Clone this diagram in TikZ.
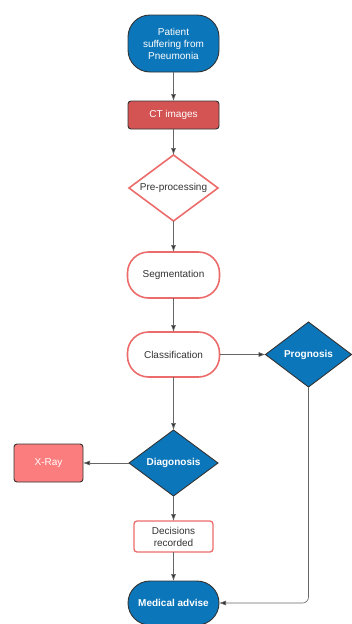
\documentclass[tikz,border=0pt]{standalone}
\usepackage{fontspec}
\setmainfont{Liberation Sans}
\usetikzlibrary{positioning, arrows.meta, shapes.geometric}
\definecolor{flowblue}{RGB}{12,118,186}
\definecolor{flowred}{RGB}{212,84,84}
\definecolor{flowpink}{RGB}{252,125,125}
\definecolor{flowline}{RGB}{236,108,108}
\definecolor{flowedge}{RGB}{50,50,50}

\begin{document}
\begin{tikzpicture}[x=1pt, y=-1pt,
  font=\fontsize{10}{12}\selectfont,
  every node/.style={align=center, inner sep=1pt, outer sep=0pt},
  bluestad/.style={draw=flowedge, line width=0.9pt, fill=flowblue, text=white, minimum width=91pt, rounded corners=22pt},
  redstad/.style={draw=flowline, line width=1.6pt, fill=white, text=black!80, minimum width=92pt, minimum height=46pt, rounded corners=21pt},
  redbox/.style={draw=flowline, line width=1.3pt, fill=white, text=black!80, rounded corners=3pt},
  bluedia/.style={diamond, aspect=1.35, draw=flowedge, line width=0.9pt, fill=flowblue, text=white, font=\fontsize{10}{12}\selectfont\bfseries, inner sep=0pt},
  reddia/.style={diamond, aspect=1.35, draw=flowline, line width=1.6pt, fill=white, text=black!80, inner sep=0pt},
  fillbox/.style={draw=flowedge, line width=0.9pt, text=white, rounded corners=3pt},
  flow/.style={draw=black!60, line width=0.6pt, -{Latex[length=7pt, width=5pt, fill=flowedge]}}]
\useasboundingbox (0,0) rectangle (351,624);
% nodes %
\node[bluestad, minimum height=57pt] (pat) at (173.5,43.5) {Patient\\suffering from\\Pneumonia};
\node[fillbox, fill=flowred, minimum width=91pt, minimum height=28pt, below=29pt of pat] (ct) {CT images};
\node[reddia, minimum width=89pt, minimum height=66pt, below=26pt of ct] (pre) {Pre-processing};
\node[redstad, below=31pt of pre] (seg) {Segmentation};
\node[redstad, minimum height=45pt, below=34pt of seg] (cls) {Classification};
\node[bluedia, minimum width=86pt, minimum height=65pt, right=46pt of cls] (prg) {Prognosis};
\node[bluedia, minimum width=89pt, minimum height=66pt, below=53pt of cls] (dia) {Diagonosis};
\node[fillbox, fill=flowpink, minimum width=69pt, minimum height=38pt, left=46pt of dia] (xr) {X-Ray};
\node[redbox, minimum width=79pt, minimum height=31pt, below=25pt of dia] (dec) {Decisions\\recorded};
\node[bluestad, font=\fontsize{10}{12}\selectfont\bfseries, minimum height=44pt, below=29pt of dec] (med) {Medical advise};
% edges %
\draw[flow] (pat) -- (ct);
\draw[flow] (ct) -- (pre);
\draw[flow] (pre) -- (seg);
\draw[flow] (seg) -- (cls);
\draw[flow] (cls) -- (prg);
\draw[flow] (cls) -- (dia);
\draw[flow] (dia) -- (xr);
\draw[flow] (dia) -- (dec);
\draw[flow] (dec) -- (med);
\draw[flow, rounded corners=6pt] (prg.south) |- (med.east);
\end{tikzpicture}
\end{document}
